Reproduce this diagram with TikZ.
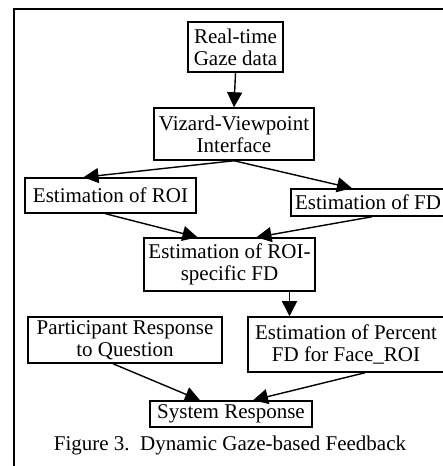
\documentclass[tikz,border=0pt]{standalone}
\usepackage{fontspec}
\setmainfont{Liberation Serif}
\usetikzlibrary{arrows.meta}
\tikzset{
  block/.style = { draw, line width=1.5pt, inner sep=0pt, align=center,
                   font=\fontsize{21}{22}\selectfont },
  flow/.style  = { line width=1.4pt, -{Triangle[length=15pt,width=15pt]} },
  frame/.style = { line width=2pt }
}

\begin{document}
\begin{tikzpicture}[x=1pt,y=1pt]
  \useasboundingbox (0,0) rectangle (443,466);
  \clip (0,0) rectangle (443,466);

  % Draw frame
  \draw[frame] (14,-5) -- (14,457) -- (460,457);

  % Draw all boxes
  \node[block, minimum width=95pt,  minimum height=50pt] (gaze) at (235.5,419) {Real-time\\Gaze data};
  \node[block, minimum width=160pt, minimum height=52pt] (viz)  at (234,332)   {Vizard-Viewpoint\\Interface};
  \node[block, minimum width=171pt, minimum height=35pt] (roi)  at (110.5,270.5) {Estimation of ROI};
  \node[block, minimum width=154pt, minimum height=27pt] (fd)   at (368,263.5) {Estimation of FD};
  \node[block, minimum width=171pt, minimum height=53pt] (spec) at (229.5,201.5) {Estimation of ROI-\\specific FD};
  \node[block, minimum width=194pt, minimum height=46pt] (part) at (125,126)   {Participant Response\\to Question};
  \node[block, minimum width=196pt, minimum height=55pt] (pct)  at (346,121.5) {Estimation of Percent\\FD for Face\_ROI};
  \node[block, minimum width=162pt, minimum height=26pt] (sys)  at (231,52)    {System Response};

  % Draw connectors
  \draw[flow] (gaze.south) -- (viz.north);
  \draw[flow] (viz.south) -- ([xshift=-27pt]roi.north);
  \draw[flow] (viz.south) -- ([xshift=-16pt]fd.north);
  \draw[flow] ([xshift=-5pt]roi.south) -- ([xshift=-32pt]spec.north);
  \draw[flow] ([xshift=4pt]fd.south) -- ([xshift=27pt]spec.north);
  \draw[flow] ([xshift=60pt]spec.south) -- ([xshift=60pt]spec.south |- pct.north);
  \draw[flow] ([xshift=-12pt]part.south) -- ([xshift=-31pt]sys.north);
  \draw[flow] ([xshift=19pt]pct.south) -- ([xshift=22pt]sys.north);

  % Draw caption
  \node[font=\fontsize{21}{22}\selectfont] (cap) at (230,21) {Figure 3.\ \ Dynamic Gaze-based Feedback};
\end{tikzpicture}
\end{document}
